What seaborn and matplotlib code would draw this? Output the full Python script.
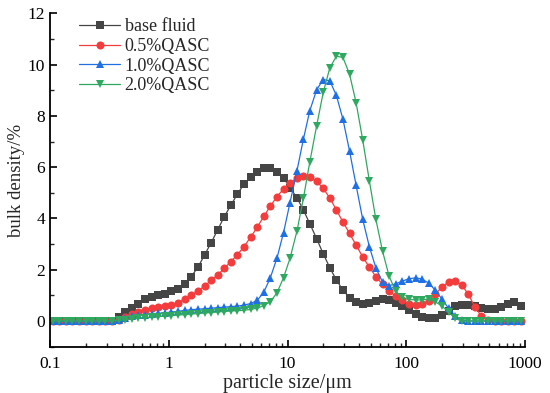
import matplotlib
matplotlib.use("Agg")
import matplotlib.pyplot as plt
import seaborn as sns
import pandas as pd
from matplotlib.ticker import MultipleLocator, LogLocator, NullFormatter, FixedLocator, FixedFormatter

# particle size classes (um), log spaced
sizes = [0.105, 0.120, 0.136, 0.154, 0.176, 0.200, 0.227, 0.258, 0.293, 0.333, 0.378, 0.430,
         0.489, 0.555, 0.631, 0.717, 0.815, 0.926, 1.05, 1.20, 1.36, 1.54, 1.76, 2.00,
         2.27, 2.58, 2.93, 3.33, 3.78, 4.30, 4.89, 5.55, 6.31, 7.17, 8.15, 9.26,
         10.5, 12.0, 13.6, 15.4, 17.6, 20.0, 22.7, 25.8, 29.3, 33.3, 37.8, 43.0,
         48.9, 55.5, 63.1, 71.7, 81.5, 92.6, 105, 120, 136, 154, 176, 200,
         227, 258, 293, 333, 378, 430, 489, 555, 631, 717, 815, 926]

base_fluid = [0, 0, 0, 0, 0, 0, 0, 0, 0, 0, 0.15, 0.34,
              0.50, 0.68, 0.84, 0.93, 1.00, 1.07, 1.16, 1.26, 1.45, 1.72, 2.10, 2.57,
              3.05, 3.55, 4.07, 4.51, 4.95, 5.34, 5.60, 5.82, 5.97, 5.98, 5.81, 5.59,
              5.20, 4.81, 4.33, 3.80, 3.21, 2.62, 2.08, 1.60, 1.20, 0.91, 0.74, 0.68,
              0.70, 0.77, 0.84, 0.80, 0.71, 0.58, 0.42, 0.27, 0.15, 0.10, 0.12, 0.22,
              0.40, 0.57, 0.63, 0.64, 0.60, 0.52, 0.46, 0.48, 0.56, 0.66, 0.73, 0.60]

qasc_05 = [0, 0, 0, 0, 0, 0, 0, 0, 0, 0, 0.03, 0.15,
           0.28, 0.37, 0.44, 0.49, 0.53, 0.57, 0.63, 0.72, 0.85, 1.00, 1.17, 1.36,
           1.58, 1.80, 2.05, 2.32, 2.58, 2.90, 3.27, 3.65, 4.08, 4.48, 4.85, 5.15,
           5.40, 5.57, 5.65, 5.60, 5.45, 5.17, 4.80, 4.33, 3.86, 3.42, 2.96, 2.50,
           2.10, 1.73, 1.43, 1.17, 0.96, 0.80, 0.68, 0.64, 0.67, 0.78, 1.05, 1.33,
           1.52, 1.55, 1.40, 1.05, 0.55, 0.19, 0.03, 0, 0, 0, 0, 0]

qasc_10 = [0, 0, 0, 0, 0, 0, 0, 0, 0, 0, 0.03, 0.12,
           0.18, 0.22, 0.25, 0.28, 0.30, 0.32, 0.35, 0.38, 0.41, 0.44, 0.46, 0.48,
           0.50, 0.52, 0.54, 0.56, 0.58, 0.62, 0.68, 0.80, 1.12, 1.69, 2.45, 3.45,
           4.62, 5.85, 7.09, 8.20, 9.02, 9.42, 9.37, 8.80, 7.87, 6.63, 5.30, 3.96,
           2.90, 2.07, 1.52, 1.38, 1.45, 1.55, 1.65, 1.68, 1.64, 1.48, 1.20, 0.85,
           0.50, 0.20, 0.03, 0, 0, 0, 0, 0, 0, 0, 0, 0]

qasc_20 = [0, 0, 0, 0, 0, 0, 0, 0, 0, 0, 0.02, 0.05,
           0.08, 0.11, 0.13, 0.15, 0.17, 0.19, 0.21, 0.23, 0.25, 0.27, 0.29, 0.31,
           0.33, 0.35, 0.37, 0.39, 0.40, 0.42, 0.45, 0.50, 0.60, 0.75, 1.10, 1.69,
           2.45, 3.50, 4.78, 6.20, 7.62, 8.92, 9.87, 10.33, 10.28, 9.63, 8.52, 7.06,
           5.47, 3.96, 2.73, 1.75, 1.16, 0.92, 0.84, 0.82, 0.82, 0.86, 0.75, 0.58,
           0.35, 0.10, 0, 0, 0, 0, 0, 0, 0, 0, 0, 0]

labels = ["base fluid", "0.5%QASC", "1.0%QASC", "2.0%QASC"]
colors = ["#454545", "#f43c3c", "#1f6fe5", "#2fa860"]
markers = ["s", "o", "^", "v"]

sns.set_style("ticks")
plt.rcParams["font.family"] = ["Liberation Serif", "DejaVu Serif"]

fig = plt.figure(figsize=(5.5, 3.93), dpi=100)
ax = fig.add_axes([0.091, 0.118, 0.8635, 0.848])

for vals, lab, col, mk in zip([base_fluid, qasc_05, qasc_10, qasc_20], labels, colors, markers):
    df = pd.DataFrame({"size": sizes, "density": vals})
    sns.lineplot(data=df, x="size", y="density", ax=ax, color=col, marker=mk,
                 markersize=5.8, markeredgewidth=0, linewidth=0.9, label=lab)

ax.set_xscale("log")
ax.set_xlim(0.1, 1000)
ax.set_ylim(-1, 12)
ax.xaxis.set_major_locator(FixedLocator([0.1, 1, 10, 100, 1000]))
ax.xaxis.set_major_formatter(FixedFormatter(["0.1", "1", "10", "100", "1000"]))
ax.xaxis.set_minor_locator(LogLocator(base=10, subs=range(2, 10), numticks=20))
ax.xaxis.set_minor_formatter(NullFormatter())
ax.yaxis.set_major_locator(MultipleLocator(2))
ax.yaxis.set_minor_locator(MultipleLocator(1))
ax.tick_params(which="major", direction="in", length=5, width=1.2, labelsize=12.5, colors="black")
ax.tick_params(axis="x", which="major", pad=7)
ax.tick_params(which="minor", direction="in", length=3, width=1.0)
for s in ["top", "right"]:
    ax.spines[s].set_visible(False)
for s in ["left", "bottom"]:
    ax.spines[s].set_linewidth(1.3)
    ax.spines[s].set_color("black")

ax.set_xlabel("particle size/μm", fontsize=14.5, labelpad=1)
ax.set_ylabel("bulk density/%", fontsize=13.5, labelpad=2)

ax.legend(loc="upper left", bbox_to_anchor=(0.062, 0.985), frameon=False, fontsize=13,
          handlelength=2.25, labelspacing=0.15, handletextpad=0.25, borderpad=0,
          borderaxespad=0)

fig.savefig("out.png", dpi=100)
